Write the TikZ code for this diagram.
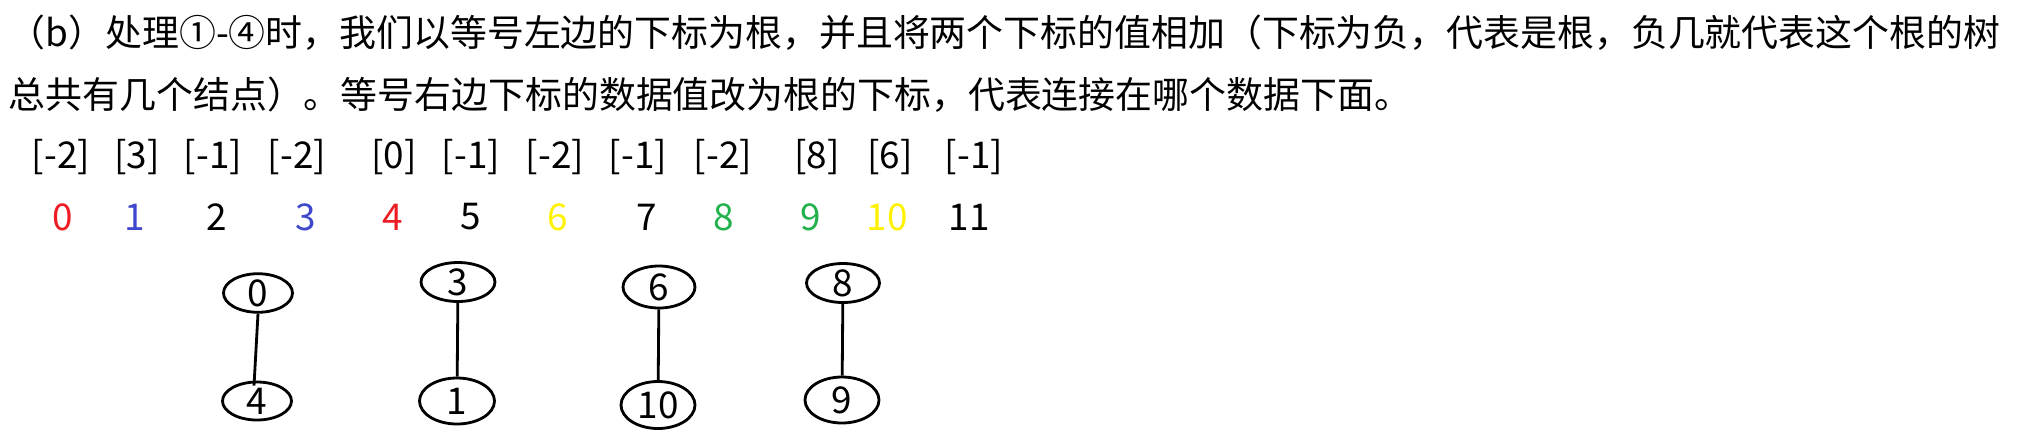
\documentclass[tikz,border=0pt]{standalone}
\usepackage{fontspec}
\setmainfont{Noto Sans CJK SC}
\usetikzlibrary{shapes.geometric}

\definecolor{idxred}{HTML}{ED1C24}
\definecolor{idxblue}{HTML}{3F48CC}
\definecolor{idxyellow}{HTML}{FFF200}
\definecolor{idxgreen}{HTML}{22B14C}

\tikzset{
  treenode/.style={draw, ellipse, thick, inner sep=0pt,
    minimum width=0.72cm, minimum height=0.40cm},
  textline/.style={anchor=west, inner sep=0pt}
}

\begin{document}
\begin{tikzpicture}[font=\fontsize{10.5}{12.6}\selectfont]

  \useasboundingbox (0,0) rectangle (20.2,-4.38);

  \node[textline] (line1) at (0.08,-0.33) {（b）处理①-④时，我们以等号左边的下标为根，并且将两个下标的值相加（下标为负，代表是根，负几就代表这个根的树};
  \node[textline] (line2) at (0.08,-0.95) {总共有几个结点）。等号右边下标的数据值改为根的下标，代表连接在哪个数据下面。};

  % parent values
  \node (p0) at (0.61,-1.57) {[-2]};
  \node (p1) at (1.37,-1.57) {[3]};
  \node (p2) at (2.13,-1.57) {[-1]};
  \node (p3) at (2.97,-1.57) {[-2]};
  \node (p4) at (3.94,-1.57) {[0]};
  \node (p5) at (4.71,-1.57) {[-1]};
  \node (p6) at (5.55,-1.57) {[-2]};
  \node (p7) at (6.38,-1.57) {[-1]};
  \node (p8) at (7.23,-1.57) {[-2]};
  \node (p9) at (8.17,-1.57) {[8]};
  \node (p10) at (8.90,-1.57) {[6]};
  \node (p11) at (9.74,-1.57) {[-1]};

  % indices
  \node[idxred] (i0) at (0.63,-2.17) {0};
  \node[idxblue] (i1) at (1.35,-2.17) {1};
  \node (i2) at (2.17,-2.17) {2};
  \node[idxblue] (i3) at (3.06,-2.17) {3};
  \node[idxred] (i4) at (3.93,-2.17) {4};
  \node (i5) at (4.71,-2.17) {5};
  \node[idxyellow] (i6) at (5.58,-2.17) {6};
  \node (i7) at (6.47,-2.17) {7};
  \node[idxgreen] (i8) at (7.24,-2.17) {8};
  \node[idxgreen] (i9) at (8.11,-2.17) {9};
  \node[idxyellow] (i10) at (8.87,-2.17) {10};
  \node (i11) at (9.69,-2.17) {11};

  % trees
  \node[treenode, minimum width=0.69cm, minimum height=0.37cm] (t0) at (2.58,-2.93) {0};
  \node[treenode, minimum width=0.69cm, minimum height=0.38cm] (t4) at (2.57,-4.01) {4};

  \node[treenode, minimum width=0.74cm, minimum height=0.39cm] (t3) at (4.58,-2.82) {3};
  \node[treenode, minimum width=0.75cm, minimum height=0.46cm] (t1) at (4.57,-4.01) {1};

  \node[treenode, minimum width=0.72cm, minimum height=0.42cm] (t6) at (6.59,-2.87) {6};
  \node[treenode, minimum width=0.74cm, minimum height=0.47cm] (t10) at (6.58,-4.05) {10};

  \node[treenode, minimum width=0.73cm, minimum height=0.39cm] (t8) at (8.43,-2.83) {8};
  \node[treenode, minimum width=0.74cm, minimum height=0.46cm] (t9) at (8.42,-4.00) {9};

  \draw[thick] (t0.south) -- ([shift={(-0.03,-0.05)}]t4.north);
  \draw[thick] (t3) -- (t1);
  \draw[thick] (t6) -- (t10);
  \draw[thick] (t8) -- (t9);

\end{tikzpicture}
\end{document}
